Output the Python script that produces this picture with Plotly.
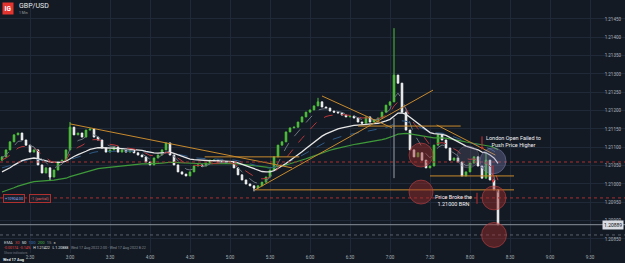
import plotly.graph_objects as go
import pandas as pd

# ---------------- data (3-minute candles) ----------------
closes = [
    1.21074, 1.21093, 1.21115, 1.21134, 1.21139, 1.21120, 1.21106, 1.21087, 1.21093, 1.21052,
    1.21030, 1.21044, 1.21019, 1.21038, 1.21060, 1.21065, 1.21093, 1.21155, 1.21134, 1.21139,
    1.21128, 1.21147, 1.21150, 1.21128, 1.21120, 1.21098, 1.21087, 1.21093, 1.21101, 1.21087,
    1.21093, 1.21087, 1.21093, 1.21085, 1.21079, 1.21074, 1.21060, 1.21052, 1.21071, 1.21079,
    1.21093, 1.21112, 1.21079, 1.21052, 1.21033, 1.21027, 1.21022, 1.21033, 1.21049, 1.21052,
    1.21049, 1.21057, 1.21065, 1.21065, 1.21060, 1.21060, 1.21057, 1.21060, 1.21044, 1.21025,
    1.21011, 1.21000, 1.20995, 1.20989, 1.20995, 1.21005, 1.21019, 1.21038, 1.21074, 1.21106,
    1.21115, 1.21142, 1.21153, 1.21155, 1.21169, 1.21183, 1.21196, 1.21202, 1.21213, 1.21224,
    1.21210, 1.21207, 1.21199, 1.21196, 1.21194, 1.21188, 1.21183, 1.21185, 1.21180, 1.21169,
    1.21166, 1.21183, 1.21169, 1.21175, 1.21180, 1.21196, 1.21215, 1.21224, 1.21297, 1.21275,
    1.21196, 1.21147, 1.21093, 1.21074, 1.21085, 1.21065, 1.21044, 1.21049, 1.21106, 1.21134,
    1.21120, 1.21098, 1.21065, 1.21071, 1.21060, 1.21022, 1.21033, 1.21057, 1.21074, 1.21049,
    1.21016, 1.21065, 1.21011, 1.20984, 1.20889,
]
first_open = 1.21065
wick_high = {17: 1.21169, 79: 1.21235, 98: 1.21425, 121: 1.21087}
wick_low = {12: 1.21008, 63: 1.20980, 124: 1.20888}
start_time = "2022-08-17 02:09"
bar_minutes = 3

# EMA lines: legend label -> smoothing length (1-minute bars) used to draw it
ema_labels = ["200", "100", "50", "30", "15"]
ema_length = {"200": 200, "100": 110, "50": 70, "30": 30, "15": 15}
ema_start = {"200": 1.20978, "100": 1.21044, "50": 1.21033, "30": 1.21066, "15": 1.21072}

y_ticks_step = 0.0005

# ---------------- build candles ----------------
t0 = pd.Timestamp(start_time)
times = [t0 + pd.Timedelta(minutes=bar_minutes * i) for i in range(len(closes))]
opens = [first_open] + closes[:-1]
highs = [max(o, c) for o, c in zip(opens, closes)]
lows = [min(o, c) for o, c in zip(opens, closes)]
for k, v in wick_high.items():
    highs[k] = v
for k, v in wick_low.items():
    lows[k] = v


def ema(series, period, init):
    a1 = 2.0 / (period + 1)
    a = 1 - (1 - a1) ** bar_minutes
    out = [init]
    for c in series[1:]:
        out.append(out[-1] + a * (c - out[-1]))
    return out


ema_style = {
    "200": dict(color="#3f9a3a", width=1.2, dash="solid"),
    "100": dict(color="#2f5a86", width=1, dash="dash"),
    "50": dict(color="#e6e6e6", width=1.3, dash="solid"),
    "30": dict(color="#b8383a", width=1, dash="dash"),
    "15": dict(color="#6d7580", width=1, dash="dash"),
}

fig = go.Figure()
for lab in ema_labels:
    fig.add_trace(go.Scatter(x=times, y=ema(closes, ema_length[lab], ema_start[lab]),
                             mode="lines", line=ema_style[lab], hoverinfo="skip"))

fig.add_trace(go.Candlestick(
    x=times, open=opens, high=highs, low=lows, close=closes,
    increasing=dict(line=dict(color="#4fc23c", width=1), fillcolor="#4fc23c"),
    decreasing=dict(line=dict(color="#f4f4f4", width=1), fillcolor="#f4f4f4"),
    whiskerwidth=0, hoverinfo="skip"))

D = "2022-08-17 "
ORANGE = "#c98a2c"
shapes = []


def seg(xa, ya, xb, yb, color=ORANGE, width=1, dash="solid"):
    shapes.append(dict(type="line", x0=D + xa, y0=ya, x1=D + xb, y1=yb,
                       line=dict(color=color, width=width, dash=dash), layer="above"))


# trendlines / levels
seg("03:00", 1.21164, "05:46:30", 1.21044)
seg("05:18:45", 1.20984, "07:32:15", 1.21256)
seg("05:18:45", 1.20984, "08:33", 1.20984)
seg("06:36", 1.21158, "07:53", 1.21158)
seg("06:09", 1.21240, "07:01:30", 1.21153)
seg("07:35", 1.21161, "08:19", 1.21079)
seg("07:30", 1.21022, "08:33", 1.21022)
seg("04:41", 1.21074, "05:52", 1.21074)
seg("07:03", 1.21016, "07:03", 1.21180, color="#9aa0a8", width=1)
seg("08:05:15", 1.20946, "08:05:15", 1.20976, color="#c0302f", width=1)


def hline(y, color, dash, width=1):
    shapes.append(dict(type="line", xref="paper", x0=0, x1=1, y0=y, y1=y,
                       line=dict(color=color, width=width, dash=dash), layer="above"))


hline(1.21060, "#a8302f", "dot")
hline(1.20962, "#a8302f", "dot")
hline(1.20889, "#8a9099", "solid")
hline(1.20861, "#5a626d", "dot")


def circle(t, p, r, fill, line):
    shapes.append(dict(type="circle", xref="x", yref="y", xsizemode="pixel", ysizemode="pixel",
                       xanchor=D + t, yanchor=p, x0=-r, x1=r, y0=-r, y1=r,
                       fillcolor=fill, line=dict(color=line, width=1), layer="above"))


RED_F, RED_L = "rgba(160,45,45,0.45)", "rgba(200,70,70,0.55)"
circle("07:23:15", 1.21079, 12, RED_F, RED_L)
circle("07:23:15", 1.20978, 12, RED_F, RED_L)
circle("08:18", 1.20962, 12, RED_F, RED_L)
circle("08:18", 1.20861, 12.5, RED_F, RED_L)
circle("08:17:15", 1.21063, 13, "rgba(130,130,180,0.35)", "rgba(150,150,200,0.4)")
circle("07:58:30", 1.21074, 11, "rgba(120,110,140,0.25)", "rgba(140,130,160,0.3)")

ann = []
ann.append(dict(x=D + "08:32:15", y=1.21117, text="London Open Failed to<br>Push Price Higher",
                showarrow=False, font=dict(size=5.5, color="#f2f2f2"), align="center"))
ann.append(dict(x=D + "07:47:15", y=1.20956, text="Price Broke the<br>1.21000 BRN",
                showarrow=False, font=dict(size=5.5, color="#f2f2f2"), align="center"))
for t, p, L in [("08:09", 1.21093, 15), ("08:17:15", 1.21003, 19)]:
    ann.append(dict(x=D + t, y=p, ax=0, ay=-L, text="", showarrow=True, arrowhead=2,
                    arrowsize=0.6, arrowwidth=1, arrowcolor="#d03333"))


def pa(px, py, text, size=5, color="#aab0b8", xanchor="left", **kw):
    ann.append(dict(xref="paper", yref="paper", x=px / 625, y=1 - py / 253, text=text,
                    showarrow=False, xanchor=xanchor, yanchor="middle",
                    font=dict(size=size, color=color), **kw))


# header
pa(2, 8, "<b>IG</b>", size=6.5, color="#ffffff", bgcolor="#e3342f", borderpad=1.5)
pa(17, 6, "GBP/USD", size=7, color="#e8eaed")
pa(17, 13, "1 Min", size=3.5, color="#9aa0a8")

# indicator legend
pa(2, 242, "EMA  <span style='color:#d04040'>30</span>  <span style='color:#e8e8e8'>50</span>  "
   "<span style='color:#3a78c0'>100</span>  <span style='color:#48b040'>200</span>  "
   "<span style='color:#8a9099'>15</span>  <span style='color:#d0d0d0'>×</span>", size=4.2,
   color="#c8ccd2")
pa(2, 248, "<span style='color:#e04040'>-0.00174</span>  <span style='color:#e04040'>-0.14%</span>"
   "   <span style='color:#e8e8e8'>H 1.21422</span>   <span style='color:#e8e8e8'>L 1.20888</span>"
   "   Wed 17 Aug 2022 2:00 - Wed 17 Aug 2022 8:22", size=3.6, color="#8a9099")
pa(2, 253, "Show indicators", size=3.3, color="#6d7580")
pa(1, 259, "<b>Wed 17 Aug</b>", size=3.9, color="#dfe3e8")

# position label on the red line
pa(3, 198, "+10904.00", size=3.8, color="#8fb0ff", bordercolor="#b03030", borderwidth=1,
   bgcolor="#1a1f2a", borderpad=1)
pa(29, 198, "-1 (partial)", size=3.8, color="#e06060", bordercolor="#b03030", borderwidth=1,
   bgcolor="#1a1f2a", borderpad=1)

# last price label
pa(624, 225, "1.20889", size=5, color="#111418", xanchor="right", bgcolor="#d9dde3",
   borderpad=1)

GRID = "#1f2937"
fig.update_layout(
    width=625, height=263, margin=dict(l=0, r=0, t=0, b=10),
    paper_bgcolor="#131a24", plot_bgcolor="#131a24", showlegend=False,
    font=dict(family="Roboto", size=5, color="#aab0b8"),
    shapes=shapes, annotations=ann, boxgap=0.45,
    xaxis=dict(type="date", range=[D + "02:07:30", D + "09:56:15"], tickformat="%-H:%M",
               dtick=1800000, tick0=D + "02:00", showgrid=True, gridcolor=GRID, gridwidth=1,
               zeroline=False, ticks="", showline=False, rangeslider=dict(visible=False),
               tickfont=dict(size=4.5, color="#aab0b8")),
    yaxis=dict(side="right", range=[1.208118, 1.215018], dtick=y_ticks_step, tick0=1.2,
               tickformat=".5f", ticklabelposition="inside", ticklabelstandoff=1,
               showgrid=True, gridcolor=GRID, gridwidth=1, zeroline=False, ticks="",
               showline=False, tickfont=dict(size=4.5, color="#aab0b8")),
)

fig.write_html("out.html")
